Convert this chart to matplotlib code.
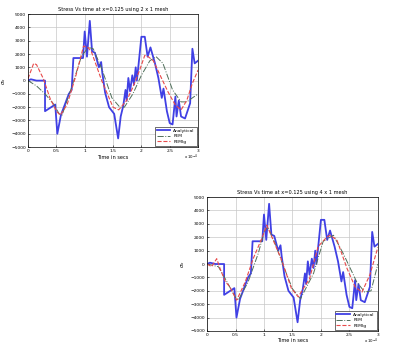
import matplotlib
matplotlib.use("Agg")
import matplotlib.pyplot as plt
from matplotlib.ticker import FuncFormatter

# time in units of 1e-4 s
t_an = [0, 0.05, 0.15, 0.3, 0.3, 0.48, 0.517, 0.58, 0.65, 0.72, 0.77, 0.8, 0.97, 1.0,
        1.04, 1.09, 1.13, 1.18, 1.25, 1.29, 1.31, 1.36, 1.43, 1.52, 1.59, 1.635, 1.68,
        1.72, 1.74, 1.77, 1.8, 1.84, 1.87, 1.9, 1.92, 1.95, 2.0, 2.06, 2.11, 2.16, 2.24,
        2.3, 2.36, 2.39, 2.45, 2.5, 2.55, 2.6, 2.62, 2.66, 2.7, 2.77, 2.86, 2.9, 2.94, 3.0]
s_an = [0, 100, 0, 0, -2300, -1800, -4000, -2600, -1800, -1000, -700, 1700, 1700, 3700,
        1800, 4500, 2200, 2100, 1000, 1400, 600, -900, -2000, -2500, -4350, -2700, -1900,
        -700, -1500, 200, -800, 400, -300, 1000, 0, 1200, 3300, 3300, 1800, 2500, 1300,
        200, -1300, -600, -2300, -3200, -3300, -1200, -2700, -1500, -2700, -2850, -1700,
        2400, 1300, 1500]

# 2 x 1 mesh
t_fem2 = [0, 0.15, 0.3, 0.44, 0.55, 0.6, 0.77, 0.94, 1.06, 1.15, 1.3, 1.48, 1.62, 1.7,
          1.85, 2.0, 2.15, 2.26, 2.38, 2.55, 2.7, 2.8, 3.0]
s_fem2 = [0, -400, -1000, -1700, -2500, -2600, -500, 1800, 2500, 2400, 900, -1300, -2000,
          -2000, -1000, 400, 1500, 1800, 1300, -700, -1600, -1600, -1000]
t_lg2 = [0, 0.1, 0.15, 0.27, 0.39, 0.51, 0.57, 0.69, 0.84, 0.98, 1.06, 1.12, 1.3, 1.5,
         1.6, 1.74, 1.85, 1.97, 2.06, 2.12, 2.21, 2.32, 2.47, 2.6, 2.7, 2.8, 2.9, 3.0]
s_lg2 = [150, 1300, 1200, 150, -1350, -2350, -2600, -1800, 300, 2600, 2500, 2150, 0,
         -2000, -2200, -1500, -500, 800, 1900, 1800, 1500, 500, -850, -1850, -2200, -1500,
         -200, 800]

# 4 x 1 mesh
t_fem4 = [0, 0.2, 0.32, 0.5, 0.55, 0.72, 0.9, 1.01, 1.07, 1.19, 1.36, 1.5, 1.64, 1.87,
          2.04, 2.22, 2.39, 2.63, 2.77, 2.88, 3.0]
s_fem4 = [0, -200, -1100, -2500, -2700, -1350, 800, 2500, 2750, 1600, -350, -1850, -2600,
          -700, 1700, 2150, 800, -1350, -2100, -2000, 0]
t_lg4 = [0, 0.08, 0.17, 0.23, 0.32, 0.4, 0.52, 0.67, 0.81, 0.96, 1.05, 1.1, 1.3, 1.48,
         1.6, 1.8, 1.95, 2.1, 2.16, 2.28, 2.46, 2.6, 2.72, 2.86, 3.0]
s_lg4 = [0, -200, 400, -350, -1300, -1700, -2700, -1350, 400, 1900, 2900, 2400, 400,
         -1800, -2450, -1100, 1300, 2000, 2150, 1800, -350, -1700, -2100, -800, 1250]

titles = ["Stress Vs time at x=0.125 using 2 x 1 mesh",
          "Stress Vs time at x=0.125 using 4 x 1 mesh"]

fig = plt.figure(figsize=(4.02, 3.46), dpi=100)
ax1 = fig.add_axes([0.0697, 0.575, 0.423, 0.384])
ax2 = fig.add_axes([0.515, 0.0434, 0.425, 0.387])

panels = [(ax1, t_fem2, s_fem2, t_lg2, s_lg2, titles[0]),
          (ax2, t_fem4, s_fem4, t_lg4, s_lg4, titles[1])]

for ax, tf, sf, tl, sl, title in panels:
    ax.plot(t_an, s_an, color="#4040e4", lw=1.3, label="Analytical")
    ax.plot(tf, sf, color="#4f6f5a", lw=0.7, linestyle="-.", label="FEM")
    ax.plot(tl, sl, color="#e84a4a", lw=0.8, linestyle="--", label="FEMlg")
    ax.set_xlim(0, 3)
    ax.set_ylim(-5000, 5000)
    ax.set_xticks([0, 0.5, 1, 1.5, 2, 2.5, 3])
    ax.set_yticks(range(-5000, 5001, 1000))
    ax.xaxis.set_major_formatter(FuncFormatter(lambda v, p: "%g" % v))
    ax.grid(True, color="#c8c8c8", lw=0.5)
    ax.tick_params(labelsize=3.2, length=1.5, width=0.4, pad=1.5, direction="in")
    for sp in ax.spines.values():
        sp.set_linewidth(0.5)
    ax.set_title(title, fontsize=3.6, pad=2)
    ax.set_xlabel("Time in secs", fontsize=3.6, labelpad=1)
    ax.set_ylabel(r"$\sigma_x$", fontsize=4, labelpad=2)
    ax.text(1.0, -0.04, r"x 10$^{-4}$", transform=ax.transAxes, fontsize=2.8,
            ha="right", va="top")
    leg = ax.legend(loc="lower right", fontsize=3.2, handlelength=3, borderpad=0.4,
                    labelspacing=0.3, fancybox=False, framealpha=1, borderaxespad=0.3)
    leg.get_frame().set_edgecolor("black")
    leg.get_frame().set_linewidth(0.4)

fig.savefig("out.png", dpi=100)
